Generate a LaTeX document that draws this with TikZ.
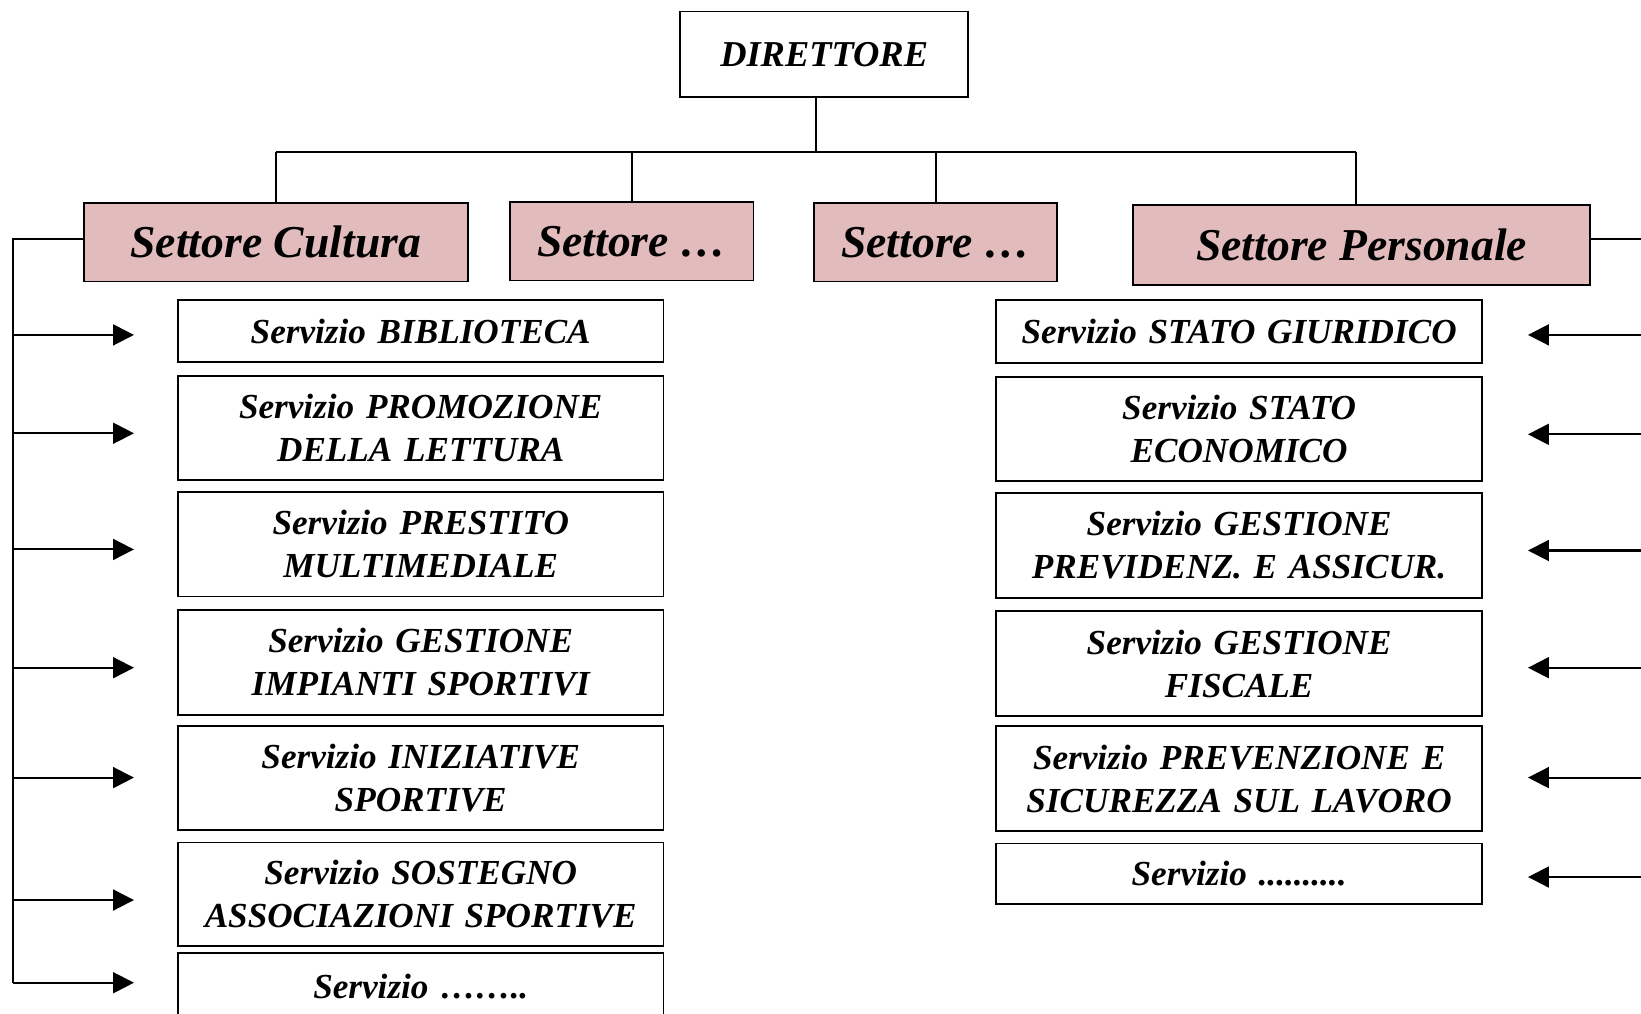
\documentclass[tikz,border=0pt]{standalone}
\usepackage{fontspec}
\setmainfont{Liberation Serif}
\usetikzlibrary{arrows.meta}
\definecolor{settpink}{RGB}{226,187,189}
\tikzset{
  ln/.style={line width=1pt},
  arr/.style={line width=1pt,-{Triangle[length=10pt,width=10pt]}},
  dirbox/.style={draw,line width=0.9pt,inner sep=0pt,font=\fontsize{17.4pt}{20pt}\selectfont\bfseries\itshape},
  settbox/.style={draw,line width=0.9pt,fill=settpink,inner sep=0pt,minimum height=37.5pt,font=\fontsize{21.8pt}{25pt}\selectfont\bfseries\itshape},
  servbox/.style={draw,line width=0.9pt,inner sep=0pt,minimum width=232pt,text width=230pt,align=center,font=\fontsize{16.8pt}{20.5pt}\selectfont\bfseries\itshape},
}
\begin{document}
\begin{tikzpicture}[x=0.5pt,y=-0.5pt]
\useasboundingbox (0,0) rectangle (1568,968);
\clip (0,0) rectangle (1568,968);
% director
\node[dirbox,minimum width=137.5pt,minimum height=41pt] (DIR) at (787.5,52) {DIRETTORE};
% sectors
\node[settbox,minimum width=183.5pt] (SC) at (263.5,231.5) {Settore Cultura};
\node[settbox,minimum width=116.5pt] (S2) at (603.5,230.5) {Settore …};
\node[settbox,minimum width=116pt] (S3) at (894,231.5) {Settore …};
\node[settbox,minimum width=218pt,minimum height=38pt] (SP) at (1301,234) {\raisebox{-2pt}{Settore Personale}};
% tree
\coordinate (J) at (780,145);
\coordinate (SPtop) at (1296,196);
\draw[ln] (J |- DIR.south) -- (J);
\draw[ln] (SC.north |- J) -- (SPtop |- J);
\draw[ln] (SC.north |- J) -- (SC.north);
\draw[ln] (S2.north |- J) -- (S2.north);
\draw[ln] (S3.north |- J) -- (S3.north);
\draw[ln] (SPtop |- J) -- (SPtop);
% left services
\node[servbox,minimum height=29.5pt] (L1) at (402,316.5) {Servizio BIBLIOTECA};
\node[servbox,minimum height=50pt] (L2) at (402,409) {Servizio PROMOZIONE\\DELLA LETTURA};
\node[servbox,minimum height=50pt] (L3) at (402,520) {Servizio PRESTITO\\MULTIMEDIALE};
\node[servbox,minimum height=50pt] (L4) at (402,633) {Servizio GESTIONE\\IMPIANTI SPORTIVI};
\node[servbox,minimum height=49.5pt] (L5) at (402,743.5) {Servizio INIZIATIVE\\SPORTIVE};
\node[servbox,minimum height=49.5pt] (L6) at (402,854.5) {Servizio SOSTEGNO\\ASSOCIAZIONI SPORTIVE};
\node[servbox,minimum height=32pt] (L7) at (402,943) {\raisebox{1pt}{Servizio ……..}};
% right services
\node[servbox,minimum height=30pt] (R1) at (1184,317) {Servizio STATO GIURIDICO};
\node[servbox,minimum height=50pt] (R2) at (1184,410) {Servizio STATO\\ECONOMICO};
\node[servbox,minimum height=50pt] (R3) at (1184,521) {Servizio GESTIONE\\PREVIDENZ. E ASSICUR.};
\node[servbox,minimum height=50pt] (R4) at (1184,634) {Servizio GESTIONE\\FISCALE};
\node[servbox,minimum height=50pt] (R5) at (1184,744) {Servizio PREVENZIONE E\\SICUREZZA SUL LAVORO};
\node[servbox,minimum height=29pt] (R6) at (1184,835) {Servizio ..........};
% left bracket
\coordinate (LS) at (12,228);
\coordinate (LB) at (12,939);
\draw[ln] (SC.west |- LS) -- (LS) -- (LB);
\foreach \n/\y in {1/320,2/414,3/525,4/638,5/743,6/860,7/939}{
  \coordinate (la\n) at (128,\y);
  \draw[arr] (LS |- la\n) -- (la\n);
}
% right bracket
\coordinate (RS) at (1582,228);
\coordinate (RB) at (1582,1000);
\draw[ln] (SP.east |- RS) -- (RS) -- (RB);
\foreach \n/\y in {1/320,2/415,3/526,4/638,5/743,6/838}{
  \coordinate (ra\n) at (1460,\y);
  \draw[arr] (RS |- ra\n) -- (ra\n);
}
\end{tikzpicture}
\end{document}
